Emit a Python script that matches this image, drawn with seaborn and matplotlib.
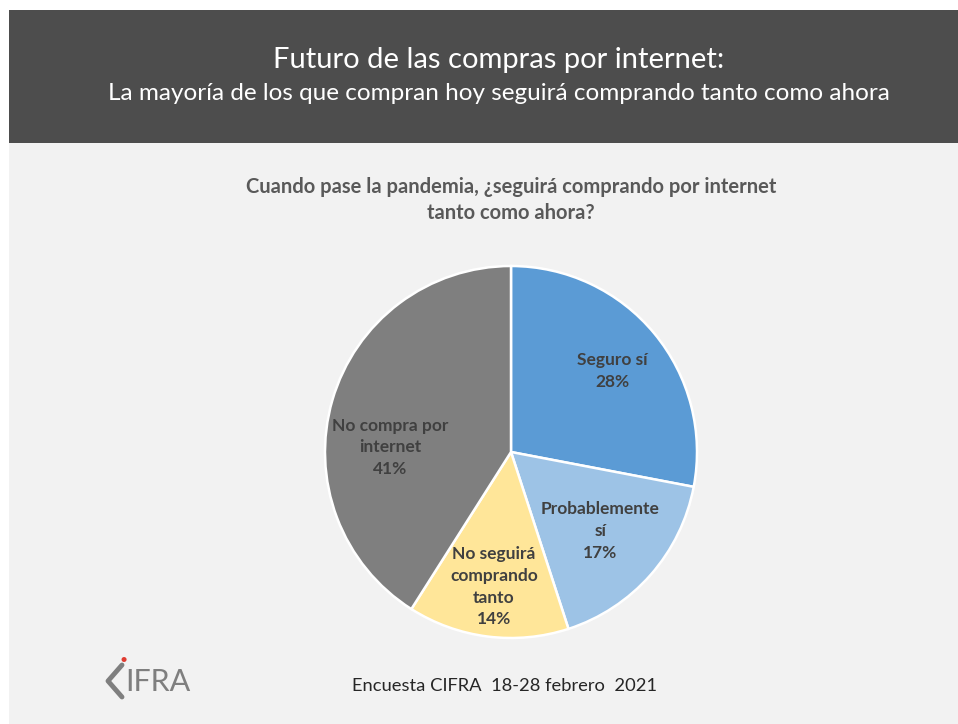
# Pie chart: future of online shopping after the pandemic (CIFRA survey)
import matplotlib
matplotlib.use("Agg")
import matplotlib.pyplot as plt
from matplotlib.patches import Rectangle
from matplotlib.lines import Line2D
import numpy as np
import seaborn as sns

# ---- Data ----
categories = ["Seguro sí", "Probablemente\nsí", "No seguirá\ncomprando\ntanto", "No compra por\ninternet"]
values = [28, 17, 14, 41]
slice_colors = ["#5b9bd5", "#9dc3e6", "#ffe699", "#7f7f7f"]

title_1 = "Futuro de las compras por internet:"
title_2 = "La mayoría de los que compran hoy seguirá comprando tanto como ahora"
question = "Cuando pase la pandemia, ¿seguirá comprando por internet\ntanto como ahora?"
footer = "Encuesta CIFRA  18-28 febrero  2021"

# label placement: fraction of radius and angular nudge (degrees)
label_dist = [0.70, 0.64, 0.73, 0.65]
label_turn = [-1, 0, 0, 14]

# ---- Style ----
sns.set_theme(style="white")
plt.rcParams["font.family"] = ["Lato", "DejaVu Sans"]

W, H = 958, 724
fig = plt.figure(figsize=(W / 100, H / 100), dpi=100)
fig.patch.set_facecolor("white")

# panel background and dark header band (figure coords)
fig.add_artist(Rectangle((9 / W, 0), 1 - 9 / W, 1 - 10 / H, transform=fig.transFigure,
                         facecolor="#f2f2f2", edgecolor="none", zorder=0))
fig.add_artist(Rectangle((9 / W, 1 - 143 / H), 1 - 9 / W, (143 - 10) / H, transform=fig.transFigure,
                         facecolor="#4d4d4d", edgecolor="none", zorder=0))

fig.text(499 / W, 1 - 60 / H, title_1, ha="center", va="center", color="white", fontsize=21)
fig.text(499 / W, 1 - 94 / H, title_2, ha="center", va="center", color="white", fontsize=17.5)
fig.text(511 / W, 1 - 200 / H, question, ha="center", va="center", color="#595959",
         fontsize=14.5, fontweight="bold", linespacing=1.35)

# ---- Pie ----
cx, cy, r = 511, 452, 186
ax = fig.add_axes([(cx - r) / W, 1 - (cy + r) / H, 2 * r / W, 2 * r / H])
ax.set_facecolor("none")

labels_iter = iter(categories)
wedges, texts, autotexts = ax.pie(
    values,
    colors=slice_colors,
    startangle=90,
    counterclock=False,
    autopct=lambda p: f"{next(labels_iter)}\n{p:.0f}%",
    pctdistance=0.65,
    wedgeprops={"edgecolor": "white", "linewidth": 1.8},
    textprops={"color": "#404040", "fontsize": 12.5, "fontweight": "bold", "linespacing": 1.45},
)
for w, t, d, turn in zip(wedges, autotexts, label_dist, label_turn):
    mid = np.deg2rad((w.theta1 + w.theta2) / 2 + turn)
    t.set_position((d * np.cos(mid), d * np.sin(mid)))

ax.set_aspect("equal")
ax.set_xlim(-1, 1)
ax.set_ylim(-1, 1)
ax.axis("off")

# ---- Footer + logo ----
fig.text(504 / W, 1 - 686 / H, footer, ha="center", va="center", color="#262626", fontsize=13.2)
fig.add_artist(Line2D([122 / W, 108 / W, 122 / W], [1 - 665 / H, 1 - 681 / H, 1 - 697 / H],
                      transform=fig.transFigure, color="#7f7f7f", linewidth=3.5))
fig.text(158 / W, 1 - 682 / H, "IFRA", ha="center", va="center", color="#7f7f7f",
         fontsize=22, fontstretch="condensed")
fig.text(124 / W, 1 - 660 / H, "•", ha="center", va="center", color="#e03c31", fontsize=10)

plt.savefig("out.png", dpi=100, facecolor=fig.get_facecolor())
